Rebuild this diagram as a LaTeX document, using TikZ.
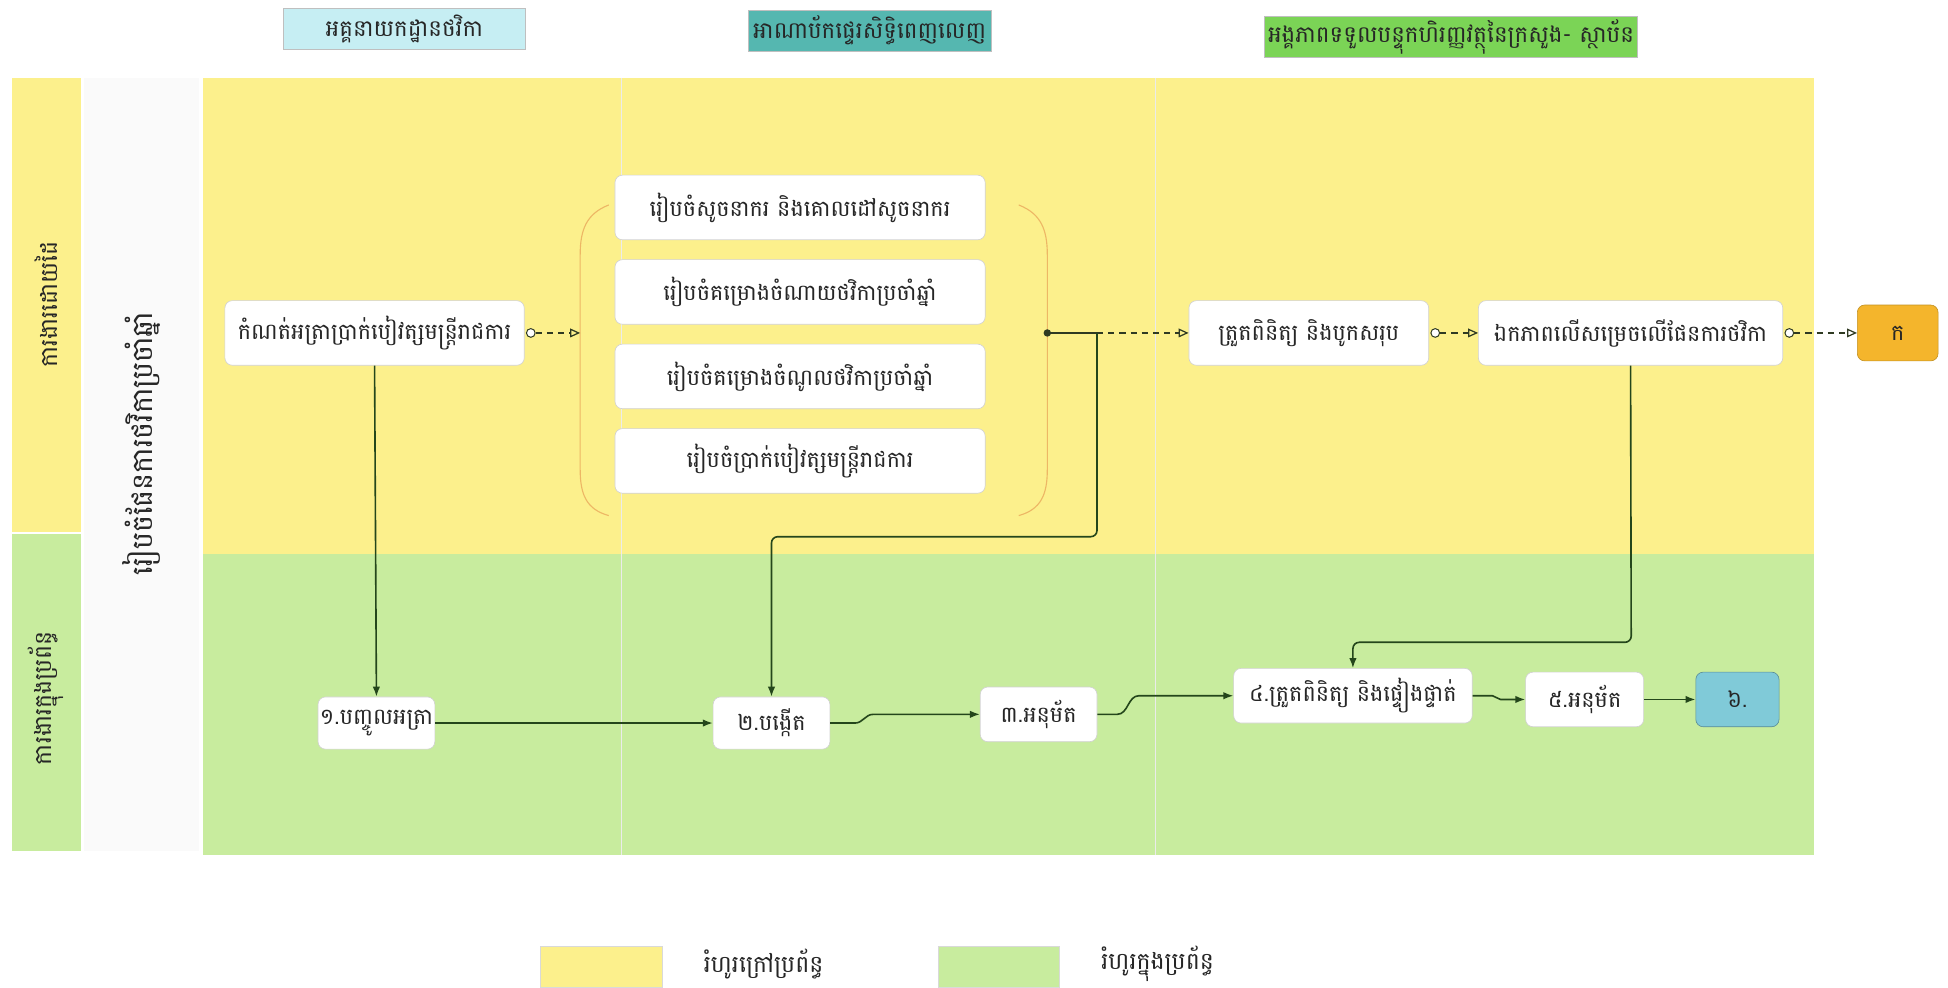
\documentclass[tikz,border=0pt]{standalone}
\usepackage{fontspec}
\newfontfamily\km[Script=Khmer]{Battambang}
\usetikzlibrary{arrows.meta,calc}
\definecolor{laneyellow}{HTML}{FCF08C}
\definecolor{lanegreen}{HTML}{C8EC9E}
\definecolor{hdrcyan}{HTML}{C6EEF3}
\definecolor{hdrteal}{HTML}{55B7B0}
\definecolor{hdrgreen}{HTML}{7BD456}
\definecolor{boxorange}{HTML}{F4B52C}
\definecolor{boxblue}{HTML}{80CAD8}
\definecolor{flowdark}{HTML}{2F3A22}
\definecolor{flowgreen}{HTML}{24461B}
\definecolor{bracketcol}{HTML}{EDB765}
\tikzset{
  x=1pt, y=-1pt,
  txt/.style={font=\km\fontsize{18}{20}\selectfont, text=black!85},
  stepbox/.style={txt, draw=black!18, line width=0.5pt, fill=white, rounded corners=6pt,
    inner sep=0pt, align=center},
  hdr/.style={txt, font=\km\fontsize{18.5}{20}\selectfont, draw=black!25, line width=0.4pt,
    inner sep=0pt, minimum height=33pt},
  lanelabel/.style={txt, font=\km\fontsize{19}{21}\selectfont, rotate=90},
  manual/.style={draw=flowdark, line width=1pt, dashed, dash pattern=on 5pt off 4pt,
    -{Triangle[open,length=8pt,width=7pt]}},
  startdot/.style={draw=flowdark, line width=0.8pt, fill=white},
  sysflow/.style={draw=flowgreen, line width=1.3pt, -{Latex[length=8pt,width=6pt]}, rounded corners=5pt},
  plainflow/.style={draw=flowdark, line width=1.2pt, rounded corners=5pt},
}
\begin{document}
\begin{tikzpicture}
\useasboundingbox (0,0) rectangle (1568,795);
\fill[white] (0,0) rectangle (1568,795);

% swimlane backgrounds
\fill[laneyellow] (10,63) rectangle (65,428);
\fill[lanegreen] (10,430) rectangle (65,685);
\fill[black!2] (68,63) rectangle (160,685);
\fill[laneyellow] (163,63) rectangle (1460,446);
\fill[lanegreen] (163,446) rectangle (1460,688);
\draw[black!8, line width=0.6pt] (500,63) -- (500,688);
\draw[black!8, line width=0.6pt] (930,63) -- (930,688);

% lane labels
\node[lanelabel] (lmanual) at (37,245) {ការងារដោយដៃ};
\node[lanelabel] (lsystem) at (37,562) {ការងារក្នុងប្រព័ន្ធ};
\node[lanelabel, font=\km\fontsize{23}{25}\selectfont] (lplan) at (114,357) {រៀបចំផែនការថវិកាប្រចាំឆ្នាំ};

% column headers
\node[hdr, fill=hdrcyan, minimum width=195pt] (h1) at (325.5,23.5) {អគ្គនាយកដ្ឋានថវិកា};
\node[hdr, fill=hdrteal, minimum width=196pt] (h2) at (700,24.5) {អាណាប័កផ្ទេរសិទ្ធិពេញលេញ};
\node[hdr, fill=hdrgreen, minimum width=300pt] (h3) at (1168,29.5) {អង្គភាពទទួលបន្ទុកហិរញ្ញវត្ថុនៃក្រសួង- ស្ថាប័ន};

% manual steps
\node[stepbox, minimum width=241pt, minimum height=52pt] (rate) at (301.5,268) {កំណត់អត្រាប្រាក់បៀវត្សមន្ត្រីរាជការ};
\node[stepbox, minimum width=298pt, minimum height=52pt] (s1) at (644,167) {រៀបចំសូចនាករ និងគោលដៅសូចនាករ};
\node[stepbox, minimum width=298pt, minimum height=52pt] (s2) at (644,235) {រៀបចំគម្រោងចំណាយថវិកាប្រចាំឆ្នាំ};
\node[stepbox, minimum width=298pt, minimum height=52pt] (s3) at (644,303) {រៀបចំគម្រោងចំណូលថវិកាប្រចាំឆ្នាំ};
\node[stepbox, minimum width=298pt, minimum height=52pt] (s4) at (644,371) {រៀបចំប្រាក់បៀវត្សមន្ត្រីរាជការ};
\node[stepbox, minimum width=193pt, minimum height=52pt] (check) at (1053.5,268) {ត្រួតពិនិត្យ និងបូកសរុប};
\node[stepbox, minimum width=245pt, minimum height=52pt] (agree) at (1312.5,268) {ឯកភាពលើសម្រេចលើផែនការថវិកា};
\node[stepbox, fill=boxorange, draw=boxorange!80!black, minimum width=65pt, minimum height=45pt] (ka) at (1527.5,268) {ក};

% system steps
\node[stepbox, minimum width=94pt, minimum height=42pt] (n1) at (303,582) {១.បញ្ចូលអត្រា};
\node[stepbox, minimum width=94pt, minimum height=42pt] (n2) at (621,582) {២.បង្កើត};
\node[stepbox, minimum width=94pt, minimum height=44pt] (n3) at (836,575) {៣.អនុម័ត};
\node[stepbox, minimum width=192pt, minimum height=44pt] (n4) at (1089,560) {៤.ត្រួតពិនិត្យ និងផ្ទៀងផ្ទាត់};
\node[stepbox, minimum width=95pt, minimum height=44pt] (n5) at (1275.5,563) {៥.អនុម័ត};
\node[stepbox, fill=boxblue, draw=boxblue!70!black, minimum width=67pt, minimum height=44pt] (n6) at (1398.5,563) {៦.};

% brackets grouping the four preparation steps
\coordinate (lb) at (467,268);
\coordinate (hub) at (843,268);
\draw[bracketcol, line width=0.9pt] (490,165) .. controls (472,172) and (467,185) .. (467,205)
  -- (467,378) .. controls (467,398) and (472,410) .. (490,415);
\draw[bracketcol, line width=0.9pt] (820,165) .. controls (838,172) and (843,185) .. (843,205)
  -- (843,378) .. controls (843,398) and (838,410) .. (820,415);

% manual flow
\coordinate (split) at (883,268);
\coordinate (turn1) at (883,432);
\coordinate (turn2) at (1313,517);
\draw[manual] ($(rate.east)+(9,0)$) -- (lb);
\draw[startdot] ($(rate.east)+(5,0)$) circle (3.5pt);
\fill[flowdark] (hub) circle (3pt);
\draw[plainflow] (hub) -- (split);
\draw[manual] (split) -- (check.west);
\draw[manual] ($(check.east)+(9,0)$) -- (agree.west);
\draw[startdot] ($(check.east)+(5,0)$) circle (3.5pt);
\draw[manual] ($(agree.east)+(9,0)$) -- (ka.west);
\draw[startdot] ($(agree.east)+(5,0)$) circle (3.5pt);

% flows into the system
\draw[sysflow] (rate.south) -- (n1.north);
\draw[sysflow] (split) -- (turn1) -| (n2.north);
\draw[sysflow] (agree.south) -- (turn2) -| (n4.north);

% system flow
\draw[sysflow] (n1.east) -- (n2.west);
\draw[sysflow, rounded corners=0pt] (n2.east) -- ++(20,0) to[out=0,in=180] ($(n3.west)+(-86,0)$) -- (n3.west);
\draw[sysflow, rounded corners=0pt] (n3.east) -- ++(16,0) to[out=0,in=180] ($(n4.west)+(-76,0)$) -- (n4.west);
\draw[sysflow, rounded corners=0pt] (n4.east) -- ++(16,0) to[out=0,in=180] ($(n5.west)+(-20,0)$) -- (n5.west);
\draw[sysflow] (n5.east) -- (n6.west);

% legend
\node[draw=black!15, fill=laneyellow, minimum width=98pt, minimum height=33pt, inner sep=0pt] (keyout) at (484,778.5) {};
\node[txt, font=\km\fontsize{19}{21}\selectfont, anchor=west] (keyouttxt) at (563,776) {រំហូរក្រៅប្រព័ន្ធ};
\node[draw=black!15, fill=lanegreen, minimum width=98pt, minimum height=33pt, inner sep=0pt] (keyin) at (804,778.5) {};
\node[txt, font=\km\fontsize{19}{21}\selectfont, anchor=west] (keyintxt) at (883,776) {រំហូរក្នុងប្រព័ន្ធ};
\end{tikzpicture}
\end{document}
